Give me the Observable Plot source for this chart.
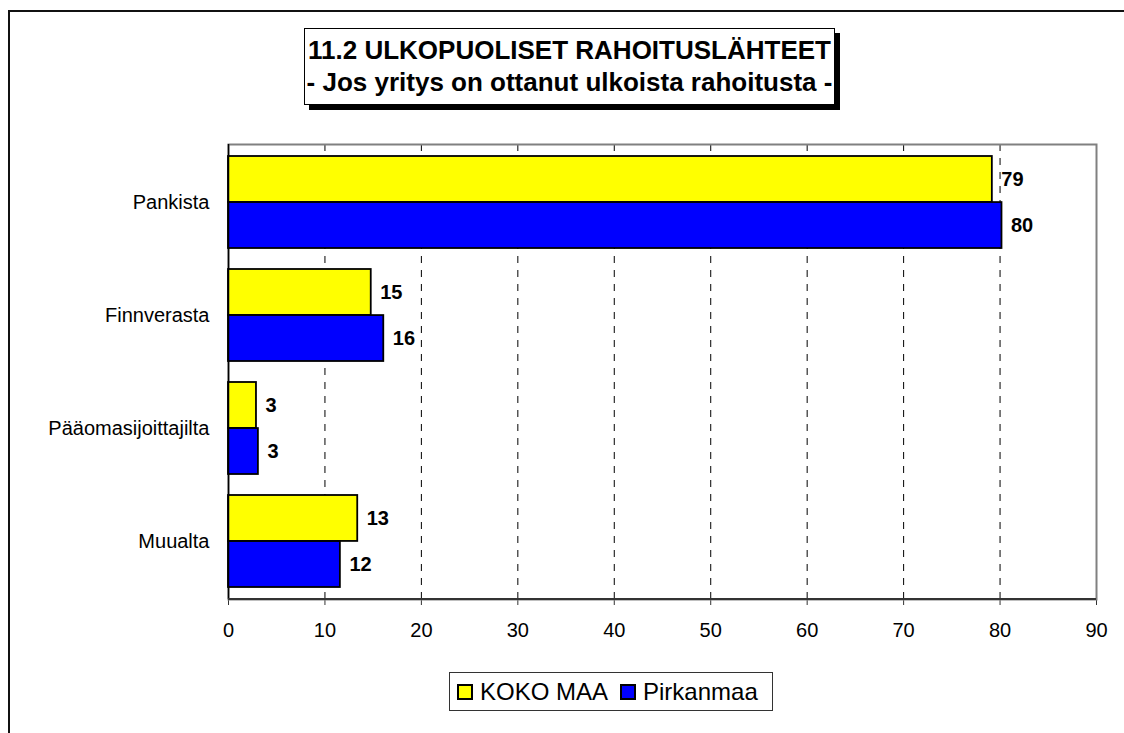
<!DOCTYPE html>
<html>
<head>
<meta charset="utf-8">
<script src="https://cdn.jsdelivr.net/npm/d3@7"></script>
<script src="https://cdn.jsdelivr.net/npm/@observablehq/plot@0.6"></script>
<style>
  body { margin: 0; background: #fff; font-family: "Liberation Sans", Arial, sans-serif; }
  #wrap { position: relative; width: 1124px; height: 733px; overflow: hidden; background: #fff; }
  #chart { position: absolute; left: 0; top: 0; }
  #outer { position: absolute; left: 8px; top: 10px; width: 1300px; height: 900px;
           border-left: 2px solid #111; border-top: 2px solid #111; pointer-events: none; }
  #title { position: absolute; left: 304px; top: 28px; width: 531px; height: 77px; box-sizing: border-box;
           border: 1px solid #000; background: #fff; box-shadow: 5px 5px 0 #000;
           text-align: center; font-weight: bold; font-size: 26px; line-height: 32px; padding-top: 5px;
           white-space: nowrap; color: #000; }
  #legend { position: absolute; left: 449px; top: 672px; width: 324px; height: 39px; box-sizing: border-box;
            border: 1px solid #333; background: #fff; display: flex; align-items: center;
            padding-left: 7px; font-size: 24px; color: #000; white-space: nowrap; }
  .sw { display: inline-block; width: 12px; height: 12px; border: 2px solid #000; margin-right: 7px; }
  .item { display: flex; align-items: center; margin-right: 12px; }
</style>
</head>
<body>
<div id="wrap">
  <div id="chart"></div>
  <div id="outer"></div>
  <div id="title">11.2 ULKOPUOLISET RAHOITUSLÄHTEET<br>- Jos yritys on ottanut ulkoista rahoitusta -</div>
  <div id="legend"></div>
</div>
<script>
const categories = ["Pankista", "Finnverasta", "Pääomasijoittajilta", "Muualta"];
const seriesNames = ["KOKO MAA", "Pirkanmaa"];
const seriesColors = ["#FFFF00", "#0000FF"];
const kokoMaa = [79.2, 14.8, 2.9, 13.4];
const pirkanmaa = [80.2, 16.1, 3.1, 11.6];
const kokoMaaLabels = [79, 15, 3, 13];
const pirkanmaaLabels = [80, 16, 3, 12];
const xTicks = [0, 10, 20, 30, 40, 50, 60, 70, 80, 90];
const gridTicks = [10, 20, 30, 40, 50, 60, 70, 80];

const rowsKoko = categories.map((c, i) => ({category: c, value: kokoMaa[i], label: String(kokoMaaLabels[i])}));
const rowsPirk = categories.map((c, i) => ({category: c, value: pirkanmaa[i], label: String(pirkanmaaLabels[i])}));

const W = 1124, H = 733;
const mTop = 144, mBottom = 134, mLeft = 228, mRight = 28;
const step = (H - mTop - mBottom) / categories.length;
const half = step * 0.81 / 2;

const chart = Plot.plot({
  width: W,
  height: H,
  marginTop: mTop,
  marginBottom: mBottom,
  marginLeft: mLeft,
  marginRight: mRight,
  style: {fontFamily: "'Liberation Sans', Arial, sans-serif", fontSize: "20px", color: "#000", background: "transparent"},
  x: {domain: [0, 90], ticks: xTicks, tickSize: 6, tickPadding: 17, label: null, tickFormat: d => String(d)},
  y: {domain: categories, paddingInner: 0.19, paddingOuter: 0.094, tickSize: 0, tickPadding: 19, label: null},
  marks: [
    Plot.ruleX(gridTicks, {stroke: "#000", strokeWidth: 1, strokeDasharray: "7,7"}),
    Plot.frame({stroke: "#808080", strokeWidth: 2}),
    Plot.barX(rowsKoko, {x: "value", y: "category", fill: seriesColors[0], stroke: "#000", strokeWidth: 1.8, insetBottom: half, insetTop: 0}),
    Plot.barX(rowsPirk, {x: "value", y: "category", fill: seriesColors[1], stroke: "#000", strokeWidth: 1.8, insetTop: half, insetBottom: 0}),
    Plot.ruleX([0], {stroke: "#000", strokeWidth: 1.5}),
    Plot.text(rowsKoko, {x: "value", y: "category", text: "label", dy: -half / 2, dx: 9, textAnchor: "start", fontWeight: "bold", fontSize: 20, fill: "#000"}),
    Plot.text(rowsPirk, {x: "value", y: "category", text: "label", dy: half / 2, dx: 9, textAnchor: "start", fontWeight: "bold", fontSize: 20, fill: "#000"})
  ]
});

// bottom axis line, from the x scale range
const xs = chart.scale("x");
d3.select(chart).append("line")
  .attr("x1", xs.range[0]).attr("x2", xs.range[1])
  .attr("y1", H - mBottom).attr("y2", H - mBottom)
  .attr("stroke", "#333").attr("stroke-width", 2);
d3.select(chart).selectAll("g[aria-label='x-axis tick'] path, g[aria-label='x-axis'] path").attr("stroke", "#333");

document.getElementById("chart").appendChild(chart);

const legend = document.getElementById("legend");
seriesNames.forEach((name, i) => {
  const item = document.createElement("span");
  item.className = "item";
  const sw = document.createElement("span");
  sw.className = "sw";
  sw.style.background = seriesColors[i];
  item.appendChild(sw);
  item.appendChild(document.createTextNode(name));
  legend.appendChild(item);
});
</script>
</body>
</html>
